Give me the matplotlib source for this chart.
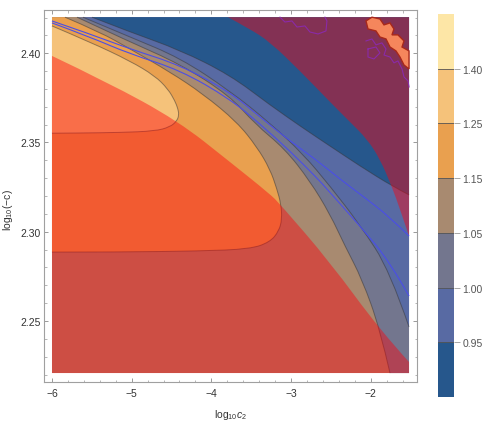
import matplotlib
matplotlib.use('Agg')
import matplotlib.pyplot as plt
from matplotlib.path import Path
from matplotlib.patches import PathPatch
from matplotlib.ticker import MultipleLocator

plt.rcParams['font.family'] = ['Liberation Sans', 'DejaVu Sans']
plt.rcParams['mathtext.fontset'] = 'custom'
plt.rcParams['mathtext.rm'] = 'Liberation Sans'
plt.rcParams['mathtext.it'] = 'Liberation Sans:italic'

# ---- plot range (data region) ----
XMIN, XMAX = -6.0, -1.52
YMIN, YMAX = 2.2208, 2.4202

# ---- contour levels / legend ----
level_colors = ['#26578C', '#586AA3', '#73768E', '#A88A70', '#E9A04F', '#F5C27A', '#FDE6A6']
tick_levels = [0.95, 1.00, 1.05, 1.15, 1.25, 1.40]

# ---- contour boundaries ----
c125_x = [-6.000, -5.523, -5.021, -4.708, -4.545, -4.457, -4.419, -4.407, -4.432, -4.519, -4.708, -5.147, -5.649, -6.000]
c125_y = [2.4153, 2.4063, 2.3957, 2.3873, 2.3800, 2.3733, 2.3688, 2.3654, 2.3621, 2.3587, 2.3564, 2.3556, 2.3553, 2.3552]

c115_x = [-5.837, -5.398, -5.021, -4.519, -4.105, -3.679, -3.428, -3.265, -3.177, -3.127, -3.114, -3.152, -3.265, -3.516, -4.143, -5.147, -6.000]
c115_y = [2.4202, 2.4119, 2.4024, 2.3895, 2.3772, 2.3615, 2.3475, 2.3351, 2.3239, 2.3155, 2.3071, 2.3004, 2.2942, 2.2903, 2.2892, 2.2886, 2.2886]

c105_x = [-5.686, -5.021, -4.394, -3.767, -3.453, -3.077, -2.763, -2.512, -2.324, -2.110, -1.885, -1.759]
c105_y = [2.4202, 2.4063, 2.3940, 2.3761, 2.3604, 2.3464, 2.3284, 2.3099, 2.2920, 2.2735, 2.2455, 2.2208]

c100_x = [-5.611, -5.021, -4.394, -3.767, -3.265, -2.851, -2.512, -2.135, -1.759, -1.520]
c100_y = [2.4202, 2.4091, 2.3974, 2.3789, 2.3609, 2.3436, 2.3256, 2.3038, 2.2780, 2.2466]

c095_x = [-5.498, -5.021, -4.394, -3.767, -3.265, -2.851, -2.512, -2.135, -1.734, -1.520]
c095_y = [2.4202, 2.4119, 2.4018, 2.3878, 2.3710, 2.3581, 2.3480, 2.3368, 2.3256, 2.3206]

# blue curves
blue1_x = [-6.000, -5.523, -5.021, -4.394, -3.767, -3.390, -3.014, -2.700, -2.386, -2.135, -1.759, -1.520]
blue1_y = [2.4181, 2.4108, 2.4024, 2.3934, 2.3783, 2.3643, 2.3508, 2.3408, 2.3295, 2.3211, 2.3082, 2.2976]
blue2_x = [-6.000, -5.523, -5.021, -4.394, -3.767, -3.390, -3.014, -2.662, -2.550, -2.135, -1.759, -1.520]
blue2_y = [2.4170, 2.4091, 2.3996, 2.3906, 2.3744, 2.3604, 2.3452, 2.3295, 2.3239, 2.3032, 2.2830, 2.2640]

# red overlay boundaries
red_lo_x = [-6.000, -5.310, -4.419, -3.767, -3.265, -3.139, -2.512, -1.885, -1.520]
red_lo_y = [2.3985, 2.3839, 2.3621, 2.3391, 2.3211, 2.3155, 2.2830, 2.2449, 2.2270]
red_hi_x = [-3.792, -3.516, -3.265, -2.888, -2.512, -2.261, -2.048, -1.885, -1.734, -1.634, -1.520]
red_hi_y = [2.4202, 2.4136, 2.4063, 2.3901, 2.3727, 2.3615, 2.3520, 2.3408, 2.3251, 2.3127, 2.2976]

# numerical-noise blob and purple traces (top right)
blob_x = [-2.060, -1.985, -1.885, -1.834, -1.759, -1.709, -1.734, -1.659, -1.583, -1.608, -1.520, -1.520, -1.583, -1.634, -1.684, -1.759, -1.809, -1.885, -1.935, -2.035]
blob_y = [2.4181, 2.4202, 2.4192, 2.4159, 2.4170, 2.4136, 2.4103, 2.4103, 2.4069, 2.4035, 2.4013, 2.3912, 2.3934, 2.3979, 2.4013, 2.4035, 2.4080, 2.4091, 2.4125, 2.4136]
purple1_x = [-3.139, -3.077, -2.989, -2.926, -2.826, -2.763, -2.662, -2.562, -2.550, -2.575]
purple1_y = [2.4202, 2.4175, 2.4181, 2.4147, 2.4153, 2.4119, 2.4108, 2.4125, 2.4181, 2.4202]
purple2_x = [-2.060, -1.985, -1.935, -1.860, -1.809, -1.834, -1.759, -1.709, -1.659, -1.608, -1.583, -1.533, -1.520]
purple2_y = [2.4069, 2.4080, 2.4047, 2.4058, 2.4024, 2.3990, 2.3979, 2.3946, 2.3957, 2.3912, 2.3867, 2.3845, 2.3811]
purple3_x = [-2.035, -1.935, -1.885, -1.960, -2.035, -2.035]
purple3_y = [2.4024, 2.4035, 2.4002, 2.3968, 2.3979, 2.4024]


def smooth_path(xs, ys, corners_x=(), corners_y=(), closed=False):
    """Quadratic-Bezier path through the traced points (smooth rendering),
    optionally followed by straight segments to plot corners."""
    pts = list(zip(xs, ys))
    verts = [pts[0]]
    codes = [Path.MOVETO]
    for i in range(1, len(pts) - 1):
        mid = ((pts[i][0] + pts[i + 1][0]) / 2, (pts[i][1] + pts[i + 1][1]) / 2)
        if i == len(pts) - 2:
            mid = pts[i + 1]
        verts += [pts[i], mid]
        codes += [Path.CURVE3, Path.CURVE3]
    if len(pts) == 2:
        verts.append(pts[1])
        codes.append(Path.LINETO)
    for cx, cy in zip(corners_x, corners_y):
        verts.append((cx, cy))
        codes.append(Path.LINETO)
    if closed:
        verts.append(pts[0])
        codes.append(Path.CLOSEPOLY)
    return Path(verts, codes)


W, H = 491, 431
fig = plt.figure(figsize=(W / 100, H / 100), dpi=100)
ax = fig.add_axes([44 / W, 1 - 383 / H, (417 - 44) / W, (383 - 10.7) / H])


def region(xs, ys, cx, cy, color, alpha=1.0):
    ax.add_patch(PathPatch(smooth_path(xs, ys, cx, cy, closed=True),
                           facecolor=color, edgecolor='none', lw=0, alpha=alpha))


# main contour fills (painted from the brown band outward)
ax.fill([XMIN, XMAX, XMAX, XMIN], [YMIN, YMIN, YMAX, YMAX], color=level_colors[3], lw=0)
region(c105_x, c105_y, [XMAX, XMAX], [YMIN, YMAX], level_colors[2])
region(c100_x, c100_y, [XMAX], [YMAX], level_colors[1])
region(c095_x, c095_y, [XMAX], [YMAX], level_colors[0])
region(c115_x, c115_y, [XMIN], [YMAX], level_colors[4])
region(c125_x, c125_y, [], [], level_colors[5])

line_col = (0.2, 0.2, 0.2, 0.5)
for cx, cy in [(c125_x, c125_y), (c115_x, c115_y), (c105_x, c105_y), (c100_x, c100_y), (c095_x, c095_y)]:
    ax.add_patch(PathPatch(smooth_path(cx, cy), facecolor='none', edgecolor=line_col, lw=0.7))

# red translucent overlay
red = (1.0, 0.0, 0.04)
region(red_lo_x, red_lo_y, [XMAX, XMIN], [YMIN, YMIN], red, alpha=0.43)
region(red_hi_x, red_hi_y, [XMAX], [YMAX], red, alpha=0.43)

# blue curves
for bx, by in [(blue1_x, blue1_y), (blue2_x, blue2_y)]:
    ax.add_patch(PathPatch(smooth_path(bx, by), facecolor='none', edgecolor='#4b4ee6', lw=0.8))

# noise
ax.fill(blob_x, blob_y, facecolor='#F5865C', edgecolor='#A8281A', lw=1.0)
for px, py in [(purple1_x, purple1_y), (purple2_x, purple2_y), (purple3_x, purple3_y)]:
    ax.plot(px, py, color='#8a2aa8', lw=0.8)

ax.set_xlim(-6.10, -1.42)
ax.set_ylim(2.2158, 2.4244)
ax.xaxis.set_major_locator(MultipleLocator(1))
ax.xaxis.set_minor_locator(MultipleLocator(0.2))
ax.yaxis.set_major_locator(MultipleLocator(0.05))
ax.yaxis.set_minor_locator(MultipleLocator(0.01))
ax.yaxis.set_major_formatter(plt.FuncFormatter(lambda v, p: f'{v:.2f}'))
ax.xaxis.set_major_formatter(plt.FuncFormatter(lambda v, p: f'{v:.0f}'.replace('-', '\u2212')))
ax.tick_params(which='both', direction='in', top=True, right=True, color='#999999', labelsize=7.5, labelcolor='#333333')
ax.tick_params(which='major', length=3.2, width=0.7, pad=4)
ax.tick_params(which='minor', length=1.8, width=0.5)
ax.tick_params(axis='y', pad=2.5)
for s in ax.spines.values():
    s.set_color('#a0a0a0')
    s.set_linewidth(0.8)
ax.set_xlabel('log$_{10}$$c_2$', fontsize=7.5, color='#333333', labelpad=7)
ax.set_ylabel('log$_{10}$(\u2212c)', fontsize=7.5, color='#333333')
ax.yaxis.set_label_coords(-0.077, 0.465)

# colour legend (equal-height bands)
cax = fig.add_axes([437.7 / W, 1 - 398 / H, 16.6 / W, 383 / H])
for i, c in enumerate(level_colors):
    cax.axhspan(i, i + 1, color=c, lw=0)
for i in range(1, len(level_colors)):
    cax.axhline(i, color='#555555', lw=0.6)
cax.set_ylim(0, len(level_colors))
cax.set_xlim(0, 1)
cax.set_xticks([])
cax.yaxis.tick_right()
cax.set_yticks(range(1, len(level_colors)))
cax.set_yticklabels([f'{t:.2f}' for t in tick_levels])
cax.tick_params(axis='y', length=4, width=0.6, color='#999999', labelsize=7.5, labelcolor='#555555', pad=2)
for s in cax.spines.values():
    s.set_visible(False)

fig.savefig('out.png', dpi=100)
